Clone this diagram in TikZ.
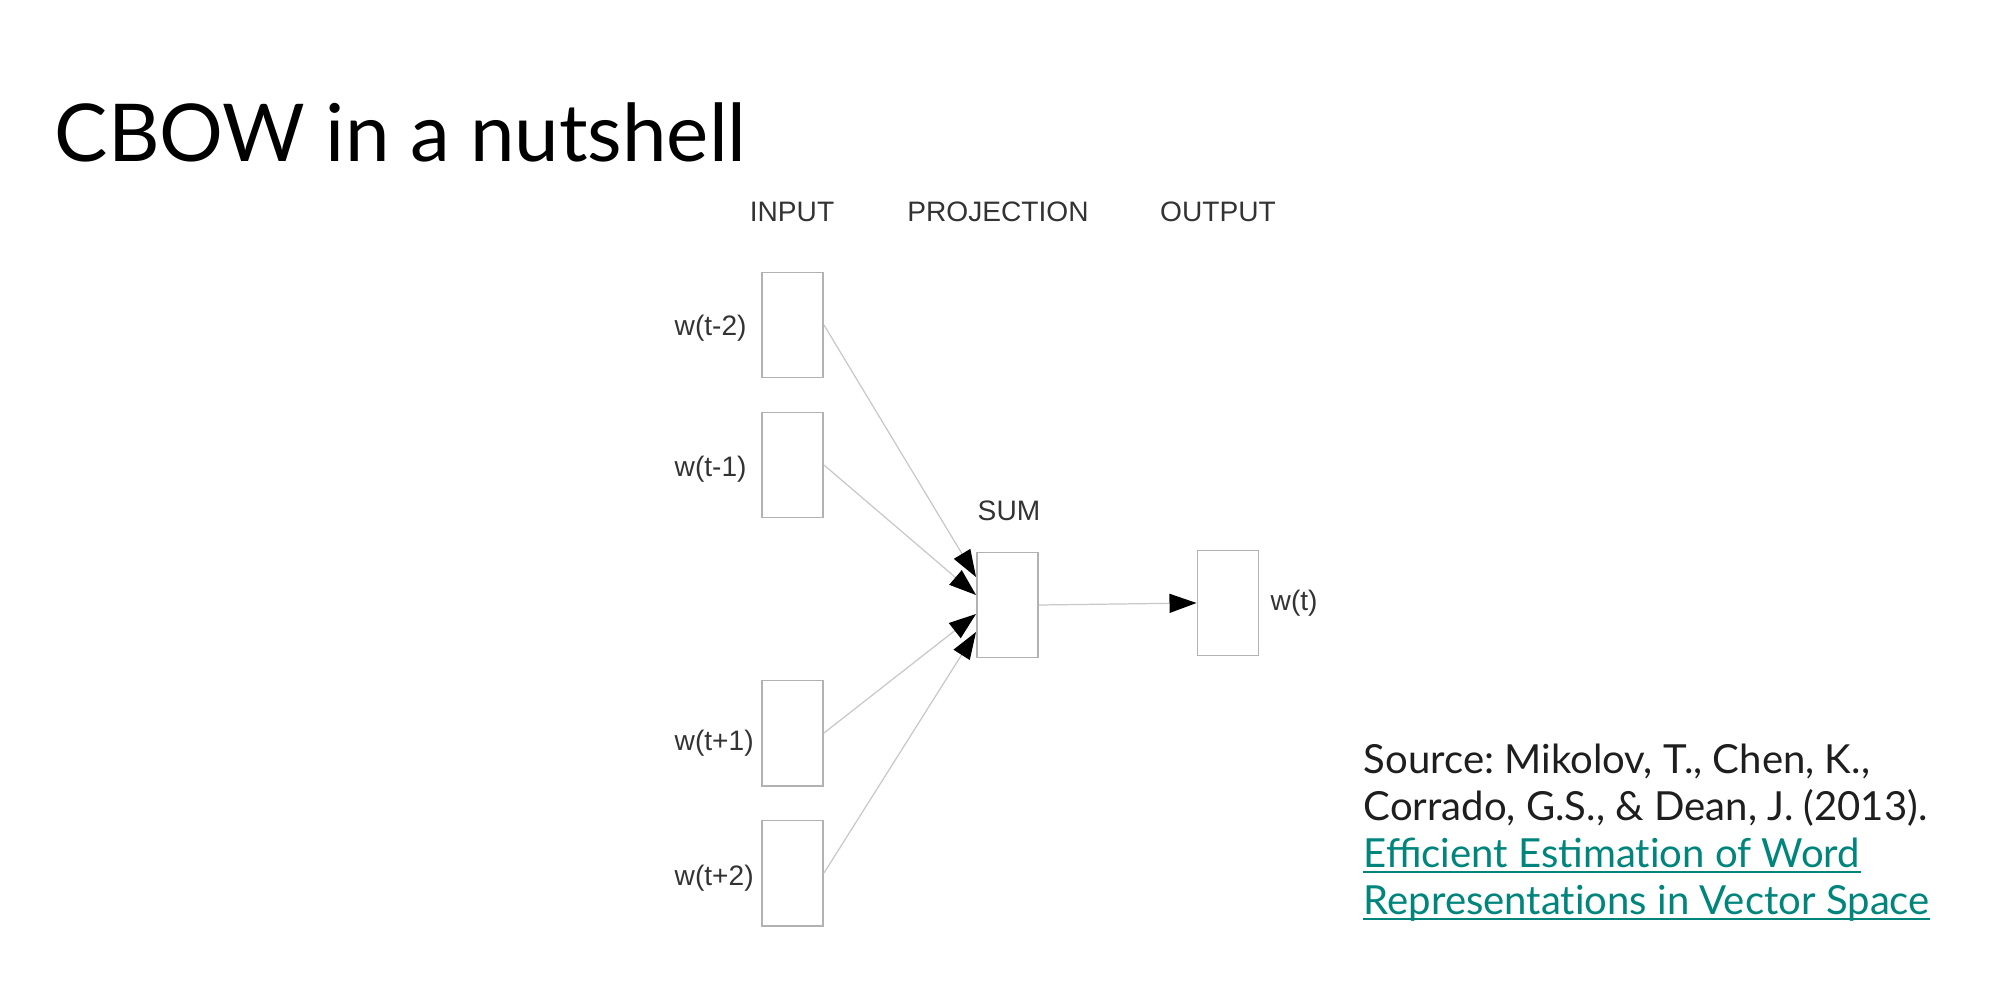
\documentclass[tikz,border=0pt]{standalone}
\usepackage{fontspec}
\setmainfont{Lato}
\newfontfamily\arialfont{Liberation Sans}
\usetikzlibrary{arrows.meta, calc, positioning}

\definecolor{linkteal}{RGB}{0,133,125}
\definecolor{boxgray}{RGB}{178,178,178}
\definecolor{wiregray}{RGB}{200,200,200}
\definecolor{srcgray}{RGB}{30,30,30}
\frenchspacing

\begin{document}
\begin{tikzpicture}[x=0.01cm, y=-0.01cm,
    vec/.style={draw=boxgray, line width=0.55pt, minimum width=0.61cm, minimum height=1.05cm, inner sep=0pt},
    lbl/.style={font=\arialfont\fontsize{8}{9.6}\selectfont, text=black!80, inner sep=0pt},
    src/.style={font=\fontsize{11.4}{13.3}\selectfont, inner sep=0pt, anchor=base west},
    wire/.style={draw=wiregray, line width=0.35pt, -{Triangle[length=0.27cm, width=0.19cm, color=black]}}]
                    \useasboundingbox (0, 0) rectangle (1993, 985);

                    \node [anchor=base west, inner sep=0pt, font=\fontsize{22.7}{27}\selectfont] (Title) at (54, 162) { CBOW in a nutshell };

                    \node [lbl] (Hin) at (792, 212) { INPUT };
                    \node [lbl] (Hproj) at (998, 212) { PROJECTION };
                    \node [lbl] (Hout) at (1218, 212) { OUTPUT };

                    \node [vec] (In1) at (792.5, 325) {};
                    \node [vec] (In2) at (792.5, 465) {};
                    \node [vec] (In3) at (792.5, 733) {};
                    \node [vec] (In4) at (792.5, 873) {};
                    \node [vec] (Sum) at (1007.5, 605) {};
                    \node [vec] (Out) at (1228, 603) {};

                    \node [lbl, anchor=west] (Lw1) at (674, 328) { w(t-2) };
                    \node [lbl, anchor=west] (Lw2) at (674, 469) { w(t-1) };
                    \node [lbl, anchor=west] (Lw3) at (674, 743) { w(t+1) };
                    \node [lbl, anchor=west] (Lw4) at (674, 878) { w(t+2) };
                    \node [lbl] (Lsum) at (1009, 511) { SUM };
                    \node [lbl, anchor=west] (Lout) at (1270, 603) { w(t) };

                    \coordinate (S1) at ($(Sum.west)+(0, -28)$);
                    \coordinate (S2) at ($(Sum.west)+(0, -10)$);
                    \coordinate (S3) at ($(Sum.west)+(0, 9)$);
                    \coordinate (S4) at ($(Sum.west)+(0, 27)$);

                    \draw [wire] (In1.east) -- (S1);
                    \draw [wire] (In2.east) -- (S2);
                    \draw [wire] (In3.east) -- (S3);
                    \draw [wire] (In4.east) -- (S4);
                    \draw [wire] (Sum.east) -- (Out.west);

                    \node [src, text=srcgray] (Src1) at (1363, 773) { Source: Mikolov, T., Chen, K., };
                    \node [src, text=srcgray] (Src2) at (1363, 820) { Corrado, G.S., \& Dean, J. (2013). };
                    \node [src, text=linkteal] (Ref1) at (1363, 867) { Efficient Estimat\kern0pt ion of Word };
                    \node [src, text=linkteal] (Ref2) at (1363, 914) { Representat\kern0pt ions in Vector Space };

                    \draw [linkteal, line width=0.7pt] ($(Ref1.base west)+(0, 5)$) -- ($(Ref1.base east)+(0, 5)$);
                    \draw [linkteal, line width=0.7pt] ($(Ref2.base west)+(0, 5)$) -- ($(Ref2.base east)+(0, 5)$);
            \end{tikzpicture}
\end{document}
